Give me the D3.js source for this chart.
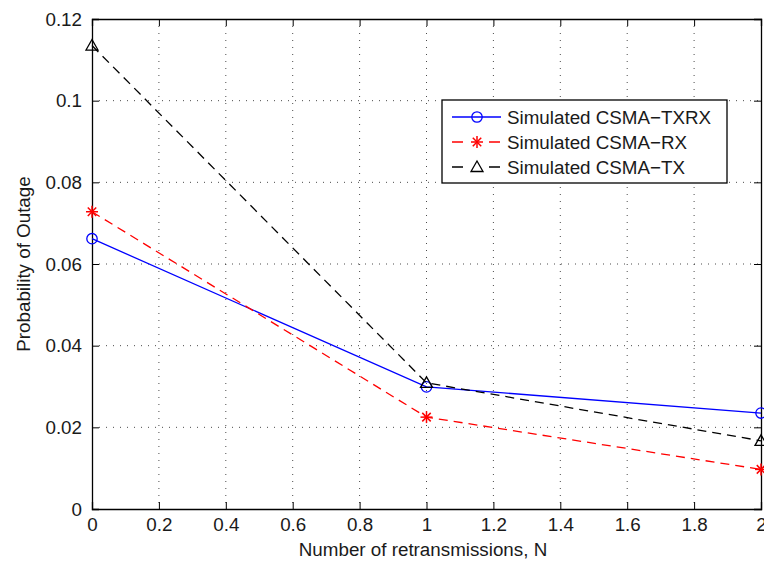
<!DOCTYPE html>
<html>
<head>
<meta charset="utf-8">
<script src="https://cdn.jsdelivr.net/npm/d3@7/dist/d3.min.js"></script>
<style>
  html, body { margin: 0; padding: 0; background: #fff; }
  svg { display: block; font-family: "Liberation Sans", Arial, Helvetica, sans-serif; }
</style>
</head>
<body>
<svg id="chart" width="764" height="565"></svg>
<script>
// Number of retransmissions and outage probabilities per scheme
const retransmissions = [0, 1, 2];
const txrx = [0.0662, 0.0299, 0.0235];
const rx = [0.0728, 0.0225, 0.0097];
const tx = [0.1135, 0.0309, 0.0167];
const xTicks = [0, 0.2, 0.4, 0.6, 0.8, 1, 1.2, 1.4, 1.6, 1.8, 2];
const yTicks = [0, 0.02, 0.04, 0.06, 0.08, 0.1, 0.12];
const seriesNames = ["Simulated CSMA\u2212TXRX", "Simulated CSMA\u2212RX", "Simulated CSMA\u2212TX"];

const svg = d3.select("#chart");
const plotLeft = 92, plotRight = 761, plotTop = 19, plotBottom = 509;
const fontSize = 18.8;
const textColor = "#1a1a1a";

const x = d3.scaleLinear().domain([0, 2]).range([plotLeft, plotRight]);
const y = d3.scaleLinear().domain([0, 0.12]).range([plotBottom, plotTop]);

const fmt = d => (d === 0 ? "0" : String(+d.toFixed(2)));

// dotted grid
const grid = svg.append("g");
grid.selectAll("line.gx").data(xTicks.slice(1, -1)).enter().append("line")
  .attr("x1", d => x(d)).attr("x2", d => x(d)).attr("y1", plotTop).attr("y2", plotBottom)
  .attr("stroke", "#000").attr("stroke-width", 1).attr("stroke-dasharray", "1,6").attr("opacity", 0.7);
grid.selectAll("line.gy").data(yTicks.slice(1, -1)).enter().append("line")
  .attr("x1", plotLeft).attr("x2", plotRight).attr("y1", d => y(d)).attr("y2", d => y(d))
  .attr("stroke", "#000").attr("stroke-width", 1).attr("stroke-dasharray", "1,6").attr("opacity", 0.7);

// axes with inward ticks
const axB = svg.append("g").attr("transform", `translate(0,${plotBottom})`)
  .call(d3.axisBottom(x).tickValues(xTicks).tickFormat(fmt).tickSize(-7).tickPadding(9));
const axT = svg.append("g").attr("transform", `translate(0,${plotTop})`)
  .call(d3.axisTop(x).tickValues(xTicks).tickFormat("").tickSize(-7));
const axL = svg.append("g").attr("transform", `translate(${plotLeft},0)`)
  .call(d3.axisLeft(y).tickValues(yTicks).tickFormat(fmt).tickSize(-7).tickPadding(10));
const axR = svg.append("g").attr("transform", `translate(${plotRight},0)`)
  .call(d3.axisRight(y).tickValues(yTicks).tickFormat("").tickSize(-7));
[axB, axT, axL, axR].forEach(a => {
  a.select(".domain").attr("stroke", "#000").attr("stroke-width", 1.3);
  a.selectAll(".tick line").attr("stroke", "#000").attr("stroke-width", 1);
  a.selectAll("text").attr("font-size", fontSize).attr("fill", textColor)
    .attr("font-family", "Liberation Sans, Arial, sans-serif");
});

// axis titles
svg.append("text").attr("x", 423).attr("y", 556).attr("text-anchor", "middle")
  .attr("font-size", fontSize).attr("fill", textColor).text("Number of retransmissions, N");
svg.append("text").attr("transform", `translate(30,${(plotTop + plotBottom) / 2}) rotate(-90)`)
  .attr("text-anchor", "middle").attr("font-size", fontSize).attr("fill", textColor).text("Probability of Outage");

const line = d3.line().x((d, i) => x(retransmissions[i])).y(d => y(d));

function circleMarker(g, cx, cy, color) {
  g.append("circle").attr("cx", cx).attr("cy", cy).attr("r", 5.2)
    .attr("fill", "none").attr("stroke", color).attr("stroke-width", 1.3);
}
function starMarker(g, cx, cy, color) {
  const r = 6;
  for (let k = 0; k < 4; k++) {
    const a = k * Math.PI / 4;
    g.append("line").attr("x1", cx - r * Math.cos(a)).attr("y1", cy - r * Math.sin(a))
      .attr("x2", cx + r * Math.cos(a)).attr("y2", cy + r * Math.sin(a))
      .attr("stroke", color).attr("stroke-width", 1.5);
  }
}
function triMarker(g, cx, cy, color) {
  const s = 6;
  g.append("path").attr("d", `M${cx},${cy - s}L${cx + s},${cy + s * 0.75}L${cx - s},${cy + s * 0.75}Z`)
    .attr("fill", "none").attr("stroke", color).attr("stroke-width", 1.3);
}

const series = [
  { values: txrx, color: "#0000ff", dash: null, marker: circleMarker },
  { values: rx, color: "#ff0000", dash: "9,6", marker: starMarker },
  { values: tx, color: "#000000", dash: "9,6", marker: triMarker }
];

series.forEach(s => {
  const g = svg.append("g");
  g.append("path").attr("d", line(s.values)).attr("fill", "none")
    .attr("stroke", s.color).attr("stroke-width", 1.3)
    .attr("stroke-dasharray", s.dash);
  s.values.forEach((v, i) => s.marker(g, x(retransmissions[i]), y(v), s.color));
});

// legend
const lg = svg.append("g");
lg.append("rect").attr("x", 442).attr("y", 100).attr("width", 285).attr("height", 83)
  .attr("fill", "#fff").attr("stroke", "#000").attr("stroke-width", 1.3);
series.forEach((s, i) => {
  const cy = 117 + i * 25;
  lg.append("line").attr("x1", 452).attr("x2", 501).attr("y1", cy).attr("y2", cy)
    .attr("stroke", s.color).attr("stroke-width", 1.3).attr("stroke-dasharray", s.dash ? "11,26" : null);
  s.marker(lg, 477, cy, s.color);
  lg.append("text").attr("x", 507).attr("y", cy + 7).attr("font-size", fontSize).attr("fill", textColor)
    .text(seriesNames[i]);
});
</script>
</body>
</html>
